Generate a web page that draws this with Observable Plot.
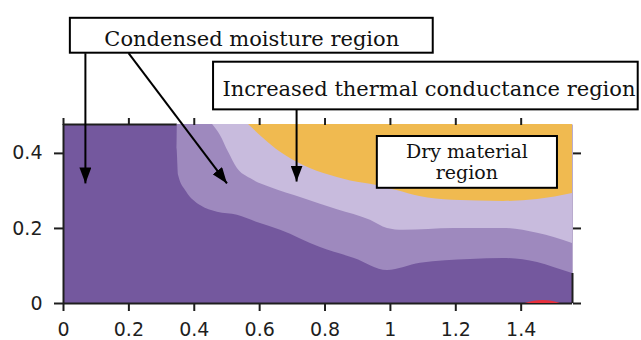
<!DOCTYPE html>
<html>
<head>
<meta charset="utf-8">
<script src="https://cdn.jsdelivr.net/npm/d3@7"></script>
<script src="https://cdn.jsdelivr.net/npm/@observablehq/plot@0.6"></script>
<style>
  html, body { margin: 0; padding: 0; background: #fff; }
</style>
</head>
<body>
<div id="chart"></div>
<script>
// ---- axis extents and ticks ----
const xMax = 1.557;
const yMax = 0.477;
const xTicks = [0, 0.2, 0.4, 0.6, 0.8, 1, 1.2, 1.4];
const yTicks = [0, 0.2, 0.4];

// ---- region boundaries (lower edge of each region; region extends up to yMax) ----
const moistX = [0.348, 0.347, 0.352, 0.376, 0.419, 0.471, 0.532, 0.593, 0.664, 0.786, 0.89, 0.991, 1.092, 1.245, 1.346, 1.45, 1.50, 1.557];
const moistY = [0.477, 0.413, 0.341, 0.298, 0.261, 0.243, 0.235, 0.216, 0.195, 0.149, 0.12, 0.088, 0.107, 0.117, 0.12, 0.109, 0.096, 0.08];

const thermX = [0.456, 0.48, 0.505, 0.532, 0.572, 0.633, 0.734, 0.838, 0.939, 0.991, 1.04, 1.193, 1.346, 1.45, 1.557];
const thermY = [0.477, 0.448, 0.403, 0.36, 0.333, 0.309, 0.28, 0.25, 0.222, 0.2, 0.195, 0.2, 0.2, 0.187, 0.16];

const dryX = [0.566, 0.612, 0.664, 0.734, 0.817, 0.899, 0.939, 1.02, 1.09, 1.19, 1.346, 1.45, 1.557];
const dryY = [0.477, 0.44, 0.403, 0.368, 0.341, 0.323, 0.318, 0.301, 0.285, 0.275, 0.272, 0.277, 0.293];

// small hot spot at the bottom edge
const hotX = [1.413, 1.44, 1.467, 1.494, 1.52];
const hotY = [0, 0.006, 0.008, 0.006, 0];

// ---- annotations (data units) ----
const boxLabels = ["Condensed moisture region", "Increased thermal conductance region", "Dry material\nregion"];
const boxX1 = [0.021, 0.459, 0.960];
const boxX2 = [1.131, 1.758, 1.511];
const boxY1 = [0.667, 0.516, 0.307];
const boxY2 = [0.760, 0.643, 0.445];
const labelX = [0.576, 1.118, 1.234];
const labelY = [0.706, 0.5725, 0.378];
const labelSize = [21, 21, 19];

const arrowX1 = [0.067, 0.199, 0.713];
const arrowY1 = [0.667, 0.667, 0.516];
const arrowX2 = [0.067, 0.500, 0.713];
const arrowY2 = [0.320, 0.320, 0.325];

// ---- build tables ----
const pts = (xs, ys) => xs.map((x, i) => ({x, y: ys[i]}));
const moist = pts(moistX, moistY);
const therm = pts(thermX, thermY);
const dry = pts(dryX, dryY);
const hot = pts(hotX, hotY);
const boxes = boxLabels.map((t, i) => ({t, x1: boxX1[i], x2: boxX2[i], y1: boxY1[i], y2: boxY2[i], lx: labelX[i], ly: labelY[i], fs: labelSize[i]}));
const arrows = arrowX1.map((x, i) => ({x1: x, y1: arrowY1[i], x2: arrowX2[i], y2: arrowY2[i]}));

const C = {dark: "#74589e", mid: "#9e89be", light: "#c8bbdd", orange: "#f0ba50", red: "#e8303c", ink: "#1e1e1e"};
const serif = "DejaVu Serif";

const chart = Plot.plot({
  width: 641,
  height: 340,
  marginLeft: 63,
  marginRight: 69,
  marginTop: 124,
  marginBottom: 37,
  style: {fontFamily: "DejaVu Sans", fontSize: "19px", color: C.ink, background: "#fff", overflow: "visible"},
  x: {domain: [0, xMax]},
  y: {domain: [0, yMax]},
  marks: [
    Plot.frame({fill: C.dark, stroke: null}),
    // frame lines (visible only along the dark region, as in the source)
    Plot.ruleX([0], {y1: 0, y2: yMax, stroke: C.ink, strokeWidth: 2}),
    Plot.ruleY([0], {x1: 0, x2: xMax, stroke: C.ink, strokeWidth: 2}),
    Plot.ruleY([yMax], {x1: 0, x2: moistX[0], stroke: C.ink, strokeWidth: 2}),
    Plot.ruleX([xMax], {y1: 0, y2: moistY[moistY.length - 1], stroke: C.ink, strokeWidth: 2}),
    // regions
    Plot.areaY(moist, {x: "x", y1: "y", y2: () => yMax, curve: "monotone-x", fill: C.mid}),
    Plot.areaY(therm, {x: "x", y1: "y", y2: () => yMax, curve: "monotone-x", fill: C.light}),
    Plot.areaY(dry, {x: "x", y1: "y", y2: () => yMax, curve: "monotone-x", fill: C.orange}),
    Plot.areaY(hot, {x: "x", y1: 0, y2: "y", curve: "natural", fill: C.red}),
    // axes
    Plot.axisX(xTicks, {anchor: "bottom", tickSize: 8, tickPadding: 11, strokeWidth: 2, stroke: C.ink, fill: C.ink, tickFormat: d => String(d), label: null}),
    Plot.axisX(xTicks, {anchor: "top", tickSize: 7, strokeWidth: 2, stroke: C.ink, tickFormat: () => "", label: null}),
    Plot.axisY(yTicks, {anchor: "left", tickSize: 9, tickPadding: 12, strokeWidth: 2, stroke: C.ink, fill: C.ink, tickFormat: d => String(d), label: null}),
    Plot.axisY(yTicks, {anchor: "right", tickSize: 8, strokeWidth: 2, stroke: C.ink, tickFormat: () => "", label: null}),
    // annotation arrows
    Plot.link(arrows, {x1: "x1", y1: "y1", x2: "x2", y2: "y2", stroke: "#000", strokeWidth: 2}),
    // annotation boxes and labels
    Plot.rect(boxes, {x1: "x1", x2: "x2", y1: "y1", y2: "y2", fill: "#fff", stroke: "#000", strokeWidth: 2}),
    Plot.text(boxes, {x: "lx", y: "ly", text: "t", fontFamily: serif, fontSize: "fs", lineHeight: 1.12, fill: "#111"})
  ]
});

// filled arrowheads on the annotation links
const ns = "http://www.w3.org/2000/svg";
const defs = document.createElementNS(ns, "defs");
const marker = document.createElementNS(ns, "marker");
marker.setAttribute("id", "ahead");
marker.setAttribute("viewBox", "0 0 16 12");
marker.setAttribute("refX", "16");
marker.setAttribute("refY", "6");
marker.setAttribute("markerWidth", "16");
marker.setAttribute("markerHeight", "12");
marker.setAttribute("markerUnits", "userSpaceOnUse");
marker.setAttribute("orient", "auto");
const head = document.createElementNS(ns, "path");
head.setAttribute("d", "M0,0L16,6L0,12Z");
head.setAttribute("fill", "#000");
marker.appendChild(head);
defs.appendChild(marker);
chart.insertBefore(defs, chart.firstChild);
chart.querySelectorAll('g[aria-label="link"] path').forEach(p => p.setAttribute("marker-end", "url(#ahead)"));

document.getElementById("chart").appendChild(chart);
</script>
</body>
</html>
